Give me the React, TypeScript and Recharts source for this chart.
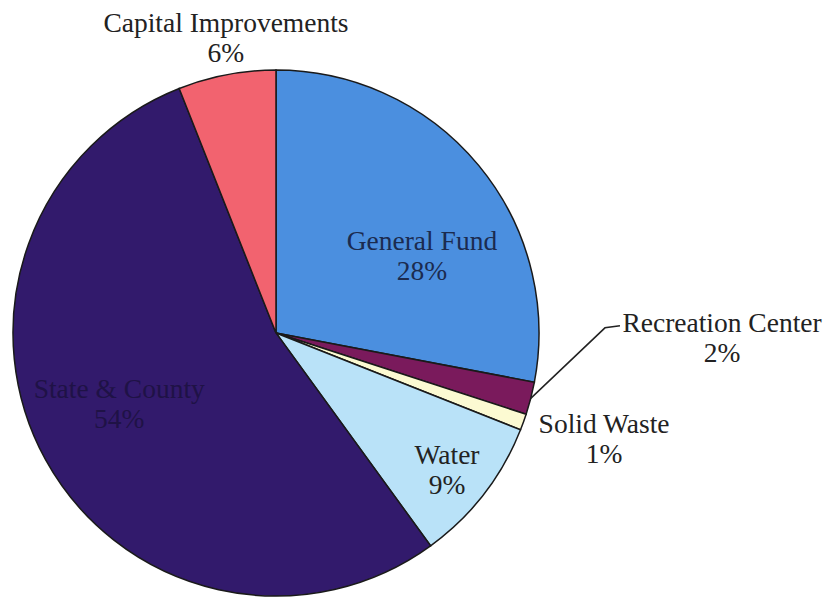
import { PieChart, Pie, Cell } from 'recharts';

const categories = ['General Fund', 'Recreation Center', 'Solid Waste', 'Water', 'State & County', 'Capital Improvements'];
const shares = [28, 2, 1, 9, 54, 6];
const percentLabels = ['28%', '2%', '1%', '9%', '54%', '6%'];

const sliceColors = ['#4b8fdf', '#7a1a5c', '#fcfad2', '#b9e2f8', '#321a6c', '#f2636f'];
const textColors = ['#1b2b4f', '#222', '#222', '#222', '#1f1246', '#222'];
// label placement: angle clockwise from 12 o'clock, distance as share of the radius
const labelAngles = [61.9, 90.6, 107.9, 128.5, 245.7, -9.6];
const labelRadii = [0.629, 1.696, 1.311, 0.831, 0.654, 1.141];

const data = categories.map((name, i) => ({ name, value: shares[i] }));

const FONT = '"Liberation Serif", "Times New Roman", serif';

function polar(cx: number, cy: number, r: number, deg: number) {
  const a = (deg * Math.PI) / 180;
  return { x: cx + r * Math.sin(a), y: cy - r * Math.cos(a) };
}

function renderLabel(props: any) {
  const { cx, cy, outerRadius, index, midAngle } = props;
  const p = polar(cx, cy, outerRadius * labelRadii[index], labelAngles[index]);
  let leader = null;
  if (categories[index] === 'Recreation Center') {
    // midAngle is measured counter-clockwise from 3 o'clock
    const start = polar(cx, cy, outerRadius, 90 - midAngle);
    const elbow = polar(cx, cy, outerRadius * 1.251, 89.1);
    leader = (
      <polyline
        points={`${start.x},${start.y} ${elbow.x},${elbow.y} ${elbow.x + 15},${elbow.y - 2}`}
        fill="none"
        stroke="#222"
        strokeWidth={1.5}
      />
    );
  }
  return (
    <g key={`lbl-${index}`}>
      {leader}
      <text
        x={p.x}
        y={p.y}
        textAnchor="middle"
        fill={textColors[index]}
        fontFamily={FONT}
        fontSize={27.5}
      >
        <tspan x={p.x} y={p.y - 15} dominantBaseline="central">{categories[index]}</tspan>
        <tspan x={p.x} y={p.y + 15} dominantBaseline="central">{percentLabels[index]}</tspan>
      </text>
    </g>
  );
}

export default function App() {
  return (
    <div style={{ position: 'absolute', left: 0, top: 0, width: 829, height: 597, background: '#fff' }}>
      <PieChart width={829} height={597} margin={{ top: 0, right: 0, bottom: 0, left: 0 }}>
        <Pie
          data={data}
          dataKey="value"
          nameKey="name"
          cx={276}
          cy={333}
          outerRadius={263}
          startAngle={90}
          endAngle={-270}
          stroke="#1a1a1a"
          strokeWidth={1.5}
          label={renderLabel}
          labelLine={false}
          isAnimationActive={false}
        >
          {data.map((d, i) => (
            <Cell key={d.name} fill={sliceColors[i]} />
          ))}
        </Pie>
      </PieChart>
    </div>
  );
}
